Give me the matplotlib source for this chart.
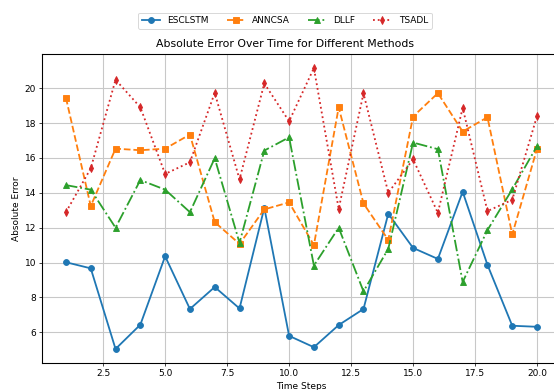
import matplotlib
matplotlib.use("Agg")
import matplotlib.pyplot as plt
import numpy as np

time_steps = list(range(1, 21))
esclstm = [10.02, 9.67, 5.05, 6.44, 10.36, 7.34, 8.60, 7.37, 13.14, 5.80,
           5.15, 6.42, 7.34, 12.80, 10.84, 10.21, 14.06, 9.87, 6.38, 6.32]
anncsa = [19.44, 13.24, 16.53, 16.44, 16.53, 17.34, 12.32, 11.07, 13.05, 13.45,
          11.00, 18.90, 13.39, 11.30, 18.37, 19.71, 17.51, 18.33, 11.61, 16.53]
dllf = [14.44, 14.18, 12.00, 14.73, 14.18, 12.89, 15.98, 11.13, 16.42, 17.18,
        9.83, 12.00, 8.35, 10.79, 16.88, 16.50, 8.89, 11.86, 14.20, 16.68]
tsadl = [12.89, 15.40, 20.48, 18.90, 15.08, 15.75, 19.73, 14.77, 20.27, 18.10,
         21.15, 13.08, 19.70, 14.00, 15.92, 12.85, 18.87, 12.95, 13.60, 18.41]

labels = ["ESCLSTM", "ANNCSA", "DLLF", "TSADL"]

W, H = 554, 390
dpi = 65
fig = plt.figure(figsize=(W / dpi, H / dpi), dpi=dpi)
ax = fig.add_axes([42.4 / W, 1 - 363 / H, (560.6 - 42.4) / W, (363 - 54) / H])

lw, ms = 2.0, 6.5
ax.plot(time_steps, esclstm, linestyle='-', marker='o', lw=lw, ms=ms, label=labels[0])
ax.plot(time_steps, anncsa, linestyle='--', marker='s', lw=lw, ms=ms, label=labels[1])
ax.plot(time_steps, dllf, linestyle='-.', marker='^', lw=lw, ms=ms, label=labels[2])
ax.plot(time_steps, tsadl, linestyle=':', marker='d', lw=lw, ms=ms, label=labels[3])

ax.grid(True, linewidth=1.2, color='#c8c8c8')
for s in ax.spines.values():
    s.set_linewidth(1.2)
ax.set_xlabel("Time Steps")
ax.set_ylabel("Absolute Error")
fig.text(285 / W, 1 - 44 / H, "Absolute Error Over Time for Different Methods",
         ha='center', va='center', fontsize=12)
fig.legend(loc='center', bbox_to_anchor=(285 / W, 1 - 20.7 / H), ncol=4)

fig.savefig("out.png", dpi=dpi)
